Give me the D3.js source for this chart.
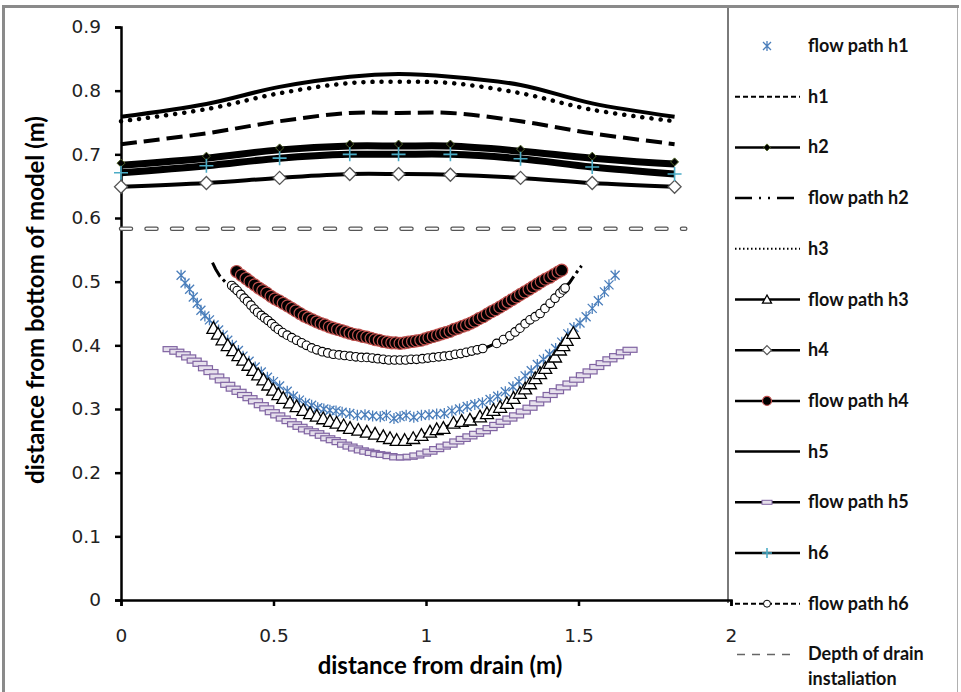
<!DOCTYPE html>
<html><head><meta charset="utf-8">
<script src="https://cdn.jsdelivr.net/npm/d3@7"></script>
<style>body{margin:0;background:#fff}svg{display:block}</style>
</head><body>
<svg id="c" width="961" height="692"></svg>
<script>
// ---------- data ----------
const xTicks = [0, 0.5, 1, 1.5, 2];
const yTicks = [0, 0.1, 0.2, 0.3, 0.4, 0.5, 0.6, 0.7, 0.8, 0.9];
const tableX = [0, 0.28, 0.52, 0.75, 0.91, 1.08, 1.31, 1.545, 1.815];
const h1 = [0.716, 0.733, 0.752, 0.765, 0.765, 0.765, 0.752, 0.733, 0.716];
const h2 = [0.683, 0.694, 0.707, 0.713, 0.713, 0.713, 0.705, 0.694, 0.685];
const h3 = [0.752, 0.771, 0.796, 0.812, 0.814, 0.812, 0.796, 0.770, 0.752];
const h4 = [0.649, 0.655, 0.663, 0.669, 0.669, 0.668, 0.663, 0.655, 0.649];
const h5 = [0.759, 0.779, 0.806, 0.822, 0.826, 0.822, 0.809, 0.780, 0.759];
const h6 = [0.671, 0.682, 0.694, 0.700, 0.700, 0.700, 0.693, 0.680, 0.669];
const drainDepthX = [0, 1.85];
const drainDepthY = [0.583, 0.583];

const flowPathH1 = [[0.197,0.510],[0.210,0.498],[0.225,0.488],[0.237,0.476],[0.250,0.466],[0.262,0.455],[0.275,0.446],[0.290,0.440],[0.305,0.432],[0.320,0.424],[0.335,0.416],[0.350,0.408],[0.365,0.400],[0.385,0.392],[0.400,0.383],[0.420,0.375],[0.440,0.366],[0.460,0.358],[0.480,0.350],[0.500,0.343],[0.520,0.336],[0.545,0.328],[0.565,0.320],[0.585,0.314],[0.605,0.309],[0.625,0.306],[0.645,0.302],[0.665,0.300],[0.685,0.298],[0.705,0.297],[0.725,0.295],[0.750,0.293],[0.775,0.290],[0.800,0.291],[0.825,0.289],[0.850,0.288],[0.870,0.290],[0.895,0.285],[0.915,0.288],[0.935,0.290],[0.960,0.287],[0.985,0.290],[1.010,0.291],[1.035,0.292],[1.060,0.293],[1.085,0.297],[1.110,0.300],[1.135,0.304],[1.160,0.307],[1.185,0.310],[1.210,0.315],[1.235,0.320],[1.260,0.327],[1.285,0.335],[1.305,0.343],[1.325,0.352],[1.345,0.360],[1.365,0.370],[1.385,0.378],[1.405,0.386],[1.425,0.395],[1.445,0.405],[1.465,0.418],[1.485,0.428],[1.505,0.435],[1.525,0.445],[1.545,0.458],[1.565,0.470],[1.585,0.484],[1.600,0.495],[1.620,0.510]];
const flowPathH2 = [[0.300,0.530],[0.310,0.520],[0.325,0.508],[0.345,0.498],[0.365,0.492],[0.390,0.486],[0.420,0.470],[0.450,0.455],[0.500,0.432],[0.550,0.415],[0.600,0.403],[0.650,0.392],[0.700,0.386],[0.750,0.383],[0.800,0.380],[0.850,0.378],[0.900,0.376],[0.950,0.377],[1.000,0.379],[1.050,0.382],[1.100,0.386],[1.150,0.391],[1.200,0.397],[1.250,0.408],[1.300,0.424],[1.350,0.443],[1.400,0.465],[1.440,0.485],[1.470,0.498],[1.490,0.512],[1.510,0.525]];
const flowPathH3 = [[0.303,0.427],[0.318,0.418],[0.333,0.409],[0.350,0.400],[0.368,0.392],[0.385,0.384],[0.401,0.377],[0.418,0.369],[0.434,0.361],[0.450,0.354],[0.467,0.346],[0.483,0.338],[0.499,0.330],[0.516,0.323],[0.532,0.317],[0.554,0.310],[0.576,0.304],[0.598,0.298],[0.620,0.293],[0.642,0.289],[0.663,0.285],[0.685,0.281],[0.707,0.278],[0.730,0.274],[0.751,0.270],[0.778,0.267],[0.806,0.264],[0.833,0.261],[0.860,0.257],[0.882,0.254],[0.904,0.251],[0.930,0.251],[0.958,0.254],[0.985,0.259],[1.013,0.264],[1.035,0.268],[1.057,0.270],[1.090,0.278],[1.117,0.281],[1.144,0.283],[1.177,0.288],[1.200,0.293],[1.221,0.298],[1.243,0.303],[1.265,0.309],[1.287,0.317],[1.308,0.325],[1.325,0.332],[1.341,0.340],[1.358,0.348],[1.374,0.356],[1.391,0.364],[1.407,0.372],[1.423,0.382],[1.439,0.393],[1.450,0.400],[1.461,0.408],[1.483,0.419]];
const flowPathH4 = [[0.379,0.516],[0.395,0.510],[0.410,0.505],[0.423,0.500],[0.438,0.495],[0.452,0.490],[0.465,0.486],[0.478,0.482],[0.492,0.477],[0.505,0.473],[0.518,0.470],[0.532,0.466],[0.546,0.462],[0.560,0.458],[0.573,0.454],[0.587,0.450],[0.601,0.446],[0.614,0.443],[0.628,0.440],[0.642,0.437],[0.656,0.434],[0.669,0.432],[0.683,0.429],[0.696,0.427],[0.710,0.425],[0.724,0.423],[0.737,0.421],[0.751,0.419],[0.765,0.417],[0.779,0.416],[0.792,0.414],[0.806,0.413],[0.820,0.411],[0.833,0.409],[0.847,0.408],[0.860,0.406],[0.874,0.405],[0.888,0.404],[0.901,0.404],[0.915,0.403],[0.929,0.404],[0.942,0.405],[0.956,0.406],[0.969,0.407],[0.983,0.408],[0.997,0.410],[1.010,0.412],[1.024,0.414],[1.038,0.416],[1.051,0.418],[1.065,0.420],[1.079,0.422],[1.092,0.425],[1.106,0.427],[1.120,0.430],[1.133,0.432],[1.147,0.435],[1.160,0.438],[1.174,0.442],[1.188,0.445],[1.201,0.449],[1.215,0.453],[1.228,0.456],[1.242,0.460],[1.256,0.464],[1.269,0.468],[1.283,0.472],[1.297,0.476],[1.310,0.480],[1.324,0.484],[1.338,0.488],[1.351,0.492],[1.365,0.496],[1.378,0.500],[1.392,0.504],[1.406,0.507],[1.419,0.511],[1.433,0.515],[1.445,0.518]];
const flowPathH5 = [[0.161,0.394],[0.183,0.390],[0.204,0.386],[0.222,0.381],[0.240,0.376],[0.259,0.371],[0.277,0.364],[0.295,0.358],[0.314,0.351],[0.332,0.345],[0.350,0.338],[0.368,0.332],[0.387,0.327],[0.405,0.322],[0.423,0.317],[0.441,0.312],[0.460,0.306],[0.478,0.301],[0.496,0.295],[0.514,0.290],[0.532,0.285],[0.551,0.281],[0.569,0.276],[0.587,0.272],[0.605,0.268],[0.624,0.265],[0.642,0.262],[0.660,0.258],[0.678,0.254],[0.696,0.251],[0.715,0.248],[0.733,0.244],[0.751,0.241],[0.769,0.238],[0.788,0.235],[0.806,0.233],[0.824,0.231],[0.842,0.229],[0.860,0.228],[0.882,0.226],[0.904,0.224],[0.926,0.224],[0.948,0.225],[0.970,0.227],[0.992,0.230],[1.013,0.233],[1.035,0.237],[1.057,0.241],[1.079,0.244],[1.101,0.249],[1.122,0.253],[1.144,0.257],[1.166,0.261],[1.188,0.265],[1.210,0.270],[1.232,0.275],[1.253,0.280],[1.275,0.285],[1.297,0.290],[1.319,0.296],[1.341,0.302],[1.363,0.309],[1.385,0.315],[1.407,0.322],[1.428,0.328],[1.450,0.334],[1.472,0.340],[1.494,0.346],[1.516,0.353],[1.538,0.359],[1.560,0.366],[1.581,0.372],[1.603,0.378],[1.625,0.383],[1.647,0.389],[1.669,0.393]];
const flowPathH6 = [[0.363,0.494],[0.372,0.490],[0.381,0.486],[0.393,0.480],[0.404,0.474],[0.415,0.469],[0.426,0.463],[0.437,0.457],[0.448,0.452],[0.460,0.447],[0.471,0.443],[0.482,0.439],[0.494,0.434],[0.505,0.429],[0.516,0.425],[0.530,0.420],[0.545,0.416],[0.560,0.412],[0.576,0.408],[0.592,0.404],[0.608,0.400],[0.625,0.396],[0.642,0.393],[0.660,0.390],[0.678,0.388],[0.696,0.386],[0.715,0.385],[0.733,0.384],[0.751,0.383],[0.770,0.382],[0.788,0.381],[0.806,0.381],[0.824,0.380],[0.842,0.379],[0.860,0.378],[0.878,0.377],[0.897,0.377],[0.915,0.377],[0.933,0.377],[0.951,0.378],[0.969,0.378],[0.988,0.379],[1.006,0.380],[1.024,0.381],[1.042,0.382],[1.060,0.383],[1.078,0.384],[1.096,0.386],[1.114,0.387],[1.132,0.389],[1.150,0.391],[1.168,0.393],[1.186,0.395],[1.232,0.403],[1.254,0.409],[1.275,0.415],[1.292,0.421],[1.308,0.427],[1.325,0.434],[1.341,0.440],[1.358,0.445],[1.374,0.450],[1.390,0.458],[1.407,0.466],[1.423,0.474],[1.439,0.482],[1.450,0.487],[1.456,0.490]];

const legendLabels = ["flow path h1","h1","h2","flow path h2","h3","flow path h3","h4","flow path h4","h5","flow path h5","h6","flow path h6","Depth of drain|instaliation"];

// ---------- chart ----------
const svg = d3.select("#c");
const x = d3.scaleLinear().domain([0, 2]).range([121, 731]);
const y = d3.scaleLinear().domain([0, 0.9]).range([600, 27]);
const TXT = "Lato, 'Open Sans', sans-serif";

// outer frame
svg.append("rect").attr("x",2).attr("y",5).attr("width",3).attr("height",687).attr("fill","#8a8a8a");
svg.append("rect").attr("x",2).attr("y",5).attr("width",957).attr("height",3).attr("fill","#8a8a8a");
svg.append("line").attr("x1",957.5).attr("x2",957.5).attr("y1",8).attr("y2",692).attr("stroke","#b0b0b0").attr("stroke-width",1);
// legend left border
svg.append("line").attr("x1",728).attr("x2",728).attr("y1",8).attr("y2",603).attr("stroke","#7a7a7a").attr("stroke-width",2);

// axes
const yAxis = d3.axisLeft(y).tickValues(yTicks).tickSize(6).tickFormat(d => d === 0 ? "0" : d3.format(".1f")(d));
const xAxis = d3.axisBottom(x).tickValues(xTicks).tickSize(6).tickFormat(d => d3.format("~g")(d));
const gy = svg.append("g").attr("transform","translate(121,0)").call(yAxis);
const gx = svg.append("g").attr("transform","translate(0,600)").call(xAxis);
[gx, gy].forEach(g => {
  g.select(".domain").attr("stroke","#000").attr("stroke-width",2.5);
  g.selectAll(".tick line").attr("stroke","#000").attr("stroke-width",2.5);
  g.selectAll(".tick text").attr("font-family","'DejaVu Sans', Verdana, sans-serif").attr("font-size",18.5).attr("fill","#222");
});
gy.selectAll(".tick text").attr("x",-20);
gx.selectAll(".tick text").attr("y",29);

// axis titles
svg.append("text").attr("x",440).attr("y",674).attr("text-anchor","middle")
  .attr("font-family",TXT).attr("font-weight","bold").attr("font-size",24).text("distance from drain (m)");
svg.append("text").attr("transform","translate(44,300) rotate(-90)").attr("text-anchor","middle")
  .attr("font-family",TXT).attr("font-weight","bold").attr("font-size",24).text("distance from bottom of model  (m)");

const smooth = d3.line().x(d => x(d[0])).y(d => y(d[1])).curve(d3.curveCatmullRom.alpha(0.5));
const straight = d3.line().x(d => x(d[0])).y(d => y(d[1]));
const zipT = arr => tableX.map((v,i) => [v, arr[i]]);

// marker painters
function star(g, cx, cy, s) {
  const r = s/2;
  g.append("path").attr("d",`M${cx-r},${cy-r}L${cx+r},${cy+r}M${cx-r},${cy+r}L${cx+r},${cy-r}M${cx},${cy-r-1}L${cx},${cy+r+1}`)
   .attr("stroke","#4a7ebb").attr("stroke-width",1.3).attr("fill","none");
}
function diamond(g, cx, cy, s, fill, stroke, sw) {
  const r = s/2;
  g.append("path").attr("d",`M${cx},${cy-r}L${cx+r},${cy}L${cx},${cy+r}L${cx-r},${cy}Z`).attr("fill",fill).attr("stroke",stroke).attr("stroke-width",sw);
}
function tri(g, cx, cy, s) {
  const r = s/2;
  g.append("path").attr("d",`M${cx},${cy-r}L${cx+r},${cy+r*0.8}L${cx-r},${cy+r*0.8}Z`).attr("fill","#fff").attr("stroke","#000").attr("stroke-width",1.3);
}
function circ(g, cx, cy, r, fill, stroke, sw) {
  g.append("circle").attr("cx",cx).attr("cy",cy).attr("r",r).attr("fill",fill).attr("stroke",stroke).attr("stroke-width",sw);
}
function rectM(g, cx, cy) {
  g.append("rect").attr("x",cx-7).attr("y",cy-2.5).attr("width",14).attr("height",5).attr("fill","#e6e0ec").attr("stroke","#8064a2").attr("stroke-width",1.2);
}
function plus(g, cx, cy, s) {
  const r = s/2;
  g.append("path").attr("d",`M${cx-r},${cy}L${cx+r},${cy}M${cx},${cy-r}L${cx},${cy+r}`).attr("stroke","#4bacc6").attr("stroke-width",1.6).attr("fill","none");
}

const plot = svg.append("g");

// flow path h1 (markers only)
const gFP1 = plot.append("g");
flowPathH1.forEach(d => star(gFP1, x(d[0]), y(d[1]), 9));

// h1 dashed
plot.append("path").attr("d", smooth(zipT(h1))).attr("fill","none").attr("stroke","#000").attr("stroke-width",4).attr("stroke-dasharray","16,7");

// h2 line + small diamonds
plot.append("path").attr("d", smooth(zipT(h2))).attr("fill","none").attr("stroke","#000").attr("stroke-width",7);
const gH2 = plot.append("g");
zipT(h2).forEach(d => diamond(gH2, x(d[0]), y(d[1])-2, 8, "#000", "#4f6228", 1));

// flow path h2
plot.append("path").attr("d", straight(flowPathH2)).attr("fill","none").attr("stroke","#000").attr("stroke-width",3).attr("stroke-dasharray","16,4,3,4,3,4");

// h3 dotted
plot.append("path").attr("d", smooth(zipT(h3))).attr("fill","none").attr("stroke","#000").attr("stroke-width",4.5).attr("stroke-linecap","round").attr("stroke-dasharray","0.1,9");

// flow path h3
plot.append("path").attr("d", straight(flowPathH3)).attr("fill","none").attr("stroke","#000").attr("stroke-width",2.5);
const gFP3 = plot.append("g");
flowPathH3.forEach(d => tri(gFP3, x(d[0]), y(d[1]), 13));

// h4
plot.append("path").attr("d", smooth(zipT(h4))).attr("fill","none").attr("stroke","#000").attr("stroke-width",4);
const gH4 = plot.append("g");
zipT(h4).forEach(d => diamond(gH4, x(d[0]), y(d[1]), 13, "#fff", "#555", 1.3));

// flow path h4
plot.append("path").attr("d", straight(flowPathH4)).attr("fill","none").attr("stroke","#000").attr("stroke-width",2.5);
const gFP4 = plot.append("g");
flowPathH4.forEach(d => circ(gFP4, x(d[0]), y(d[1]), 6, "#000", "#c0504d", 1.2));

// h5
plot.append("path").attr("d", smooth(zipT(h5))).attr("fill","none").attr("stroke","#000").attr("stroke-width",4);

// flow path h5
plot.append("path").attr("d", straight(flowPathH5)).attr("fill","none").attr("stroke","#000").attr("stroke-width",2.5);
const gFP5 = plot.append("g");
flowPathH5.forEach(d => rectM(gFP5, x(d[0]), y(d[1])));

// h6
plot.append("path").attr("d", smooth(zipT(h6))).attr("fill","none").attr("stroke","#000").attr("stroke-width",7);
const gH6 = plot.append("g");
zipT(h6).forEach(d => plus(gH6, x(d[0]), y(d[1]), 14));

// flow path h6
plot.append("path").attr("d", straight(flowPathH6)).attr("fill","none").attr("stroke","#000").attr("stroke-width",2).attr("stroke-dasharray","5,3");
const gFP6 = plot.append("g");
flowPathH6.forEach(d => circ(gFP6, x(d[0]), y(d[1]), 4.3, "#fff", "#000", 1.1));

// depth of drain installation (hollow dashes)
const depth = drainDepthX.map((v,i) => [v, drainDepthY[i]]);
plot.append("path").attr("d", straight(depth)).attr("fill","none").attr("stroke","#555").attr("stroke-width",4.5).attr("stroke-linecap","round").attr("stroke-dasharray","10,15.5");
plot.append("path").attr("d", straight(depth)).attr("fill","none").attr("stroke","#fff").attr("stroke-width",2).attr("stroke-linecap","round").attr("stroke-dasharray","10,15.5");

// ---------- legend ----------
const lg = svg.append("g");
legendLabels.forEach((lab, i) => {
  const ly = 46 + i * 50.7;
  const x0 = 735, x1 = 800, mx = 767;
  const line = (dash, w) => lg.append("line").attr("x1",x0).attr("x2",x1).attr("y1",ly).attr("y2",ly).attr("stroke","#000").attr("stroke-width",w||2.5).attr("stroke-dasharray",dash||null);
  switch(i) {
    case 0: star(lg, mx, ly, 8); break;
    case 1: line("5,3", 2); break;
    case 2: line(); diamond(lg, mx, ly, 7, "#000", "#4f6228", 1); break;
    case 3: line("17,7,2,7,2,7", 2.5); break;
    case 4: line("1.5,2.5", 2); break;
    case 5: line(); tri(lg, mx, ly, 9); break;
    case 6: line(); diamond(lg, mx, ly, 9, "#fff", "#555", 1.2); break;
    case 7: line(); circ(lg, mx, ly, 4.5, "#000", "#c0504d", 1.2); break;
    case 8: line(); break;
    case 9: line(); lg.append("rect").attr("x",mx-5).attr("y",ly-2).attr("width",10).attr("height",4).attr("fill","#e6e0ec").attr("stroke","#8064a2").attr("stroke-width",1); break;
    case 10: line(); plus(lg, mx, ly, 10); break;
    case 11: line("5,3", 2); circ(lg, mx, ly, 3.5, "#fff", "#000", 1); break;
    case 12: lg.append("line").attr("x1",x0+2).attr("x2",x1-3).attr("y1",ly).attr("y2",ly).attr("stroke","#666").attr("stroke-width",1.5).attr("stroke-dasharray","8,7"); break;
  }
  const parts = lab.split("|");
  parts.forEach((p, k) => {
    lg.append("text").attr("x",808).attr("y",ly + 6 + k*25).attr("font-family",TXT).attr("font-weight","bold").attr("font-size",18).attr("fill","#111").text(p);
  });
});
</script>
</body></html>
